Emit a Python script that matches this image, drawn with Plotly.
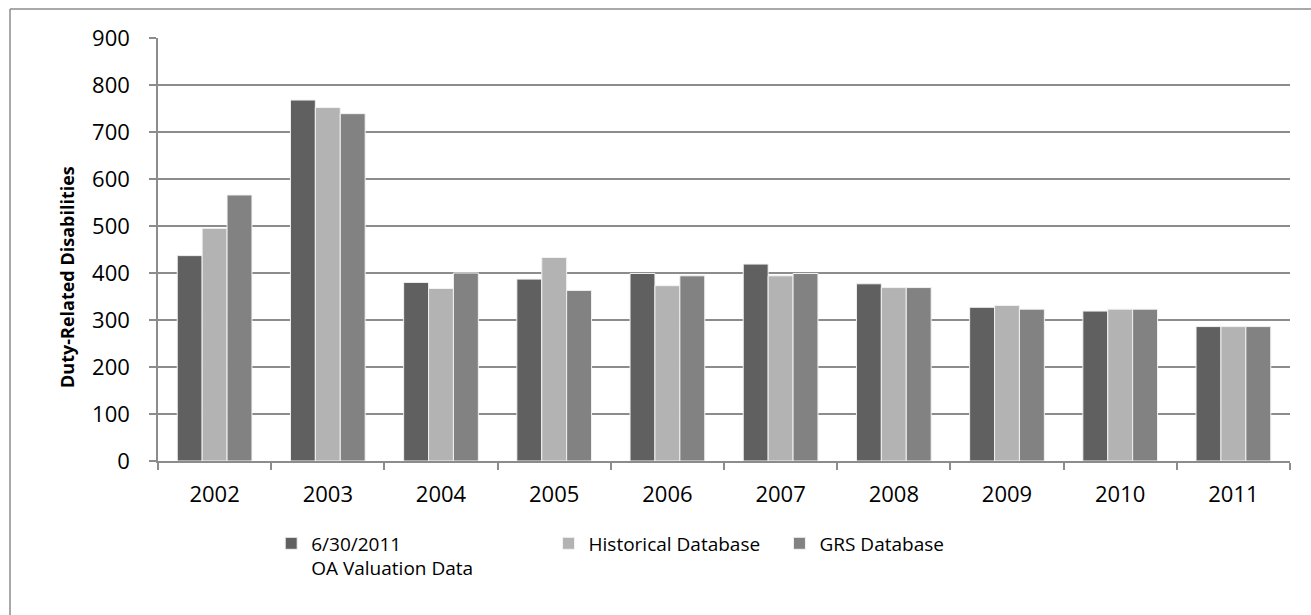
import plotly.graph_objects as go

# Duty-related disabilities by year, from three data sources
years = ["2002", "2003", "2004", "2005", "2006", "2007", "2008", "2009", "2010", "2011"]
oa_valuation = [437, 768, 380, 387, 399, 419, 377, 327, 319, 286]
historical_db = [495, 752, 367, 433, 373, 394, 369, 331, 323, 286]
grs_db = [566, 739, 400, 363, 394, 399, 369, 323, 323, 286]

series_names = ["6/30/2011<br>OA Valuation Data", "Historical Database", "GRS Database"]
series_values = [oa_valuation, historical_db, grs_db]
series_colors = ["#606060", "#b3b3b3", "#828282"]
legend_ids = ["legend", "legend2", "legend3"]
legend_x = [0.100, 0.345, 0.549]

FONT = "Open Sans"
FS = 22
LEG_FS = 19
GRID = "#8c8c8c"

fig = go.Figure()
for name, vals, color, lg in zip(series_names, series_values, series_colors, legend_ids):
    fig.add_trace(go.Bar(
        x=years, y=vals, name=name,
        marker=dict(color=color, line=dict(color="#f2f2f2", width=1)),
        legend=lg,
    ))

legend_common = dict(
    orientation="h", yanchor="top", y=-0.15, xanchor="left",
    font=dict(family=FONT, size=LEG_FS, color="#000000"),
    bgcolor="rgba(0,0,0,0)", valign="top", itemwidth=30,
)
layout_legends = {}
for lg, lx in zip(legend_ids, legend_x):
    layout_legends[lg] = dict(legend_common, x=lx)

W, H = 1311, 615
L, R, T, B = 158, 21, 38, 154
pw, ph = W - L - R, H - T - B


def px_x(v):
    return (v - L) / pw


def px_y(v):
    return (H - B - v) / ph


fig.update_layout(
    width=W, height=H,
    margin=dict(l=L, r=R, t=T, b=B),
    paper_bgcolor="white", plot_bgcolor="white",
    barmode="group", bargap=0.34, bargroupgap=0,
    font=dict(family=FONT, size=FS, color="#000000"),
    showlegend=True,
    **layout_legends,
    xaxis=dict(
        type="category", showgrid=False,
        showline=True, linecolor=GRID, linewidth=1.5,
        ticks="outside", tickson="boundaries", ticklen=7, tickcolor=GRID, tickwidth=1.5,
        tickfont=dict(family=FONT, size=FS, color="#000000"),
        ticklabelstandoff=13,
    ),
    yaxis=dict(
        range=[0, 900], dtick=100, tick0=0,
        showgrid=True, gridcolor=GRID, gridwidth=1.5,
        showline=True, linecolor=GRID, linewidth=1.5,
        ticks="outside", ticklen=7, tickcolor=GRID, tickwidth=1.5,
        zeroline=False,
        tickfont=dict(family=FONT, size=FS, color="#000000"),
        ticklabelstandoff=15,
    ),
    annotations=[
        dict(text="<b>Duty-Related Disabilities</b>", textangle=-90,
             xref="paper", yref="paper", x=px_x(67), y=px_y(277),
             xanchor="center", yanchor="middle", showarrow=False,
             font=dict(family=FONT, size=18, color="#000000")),
    ],
    shapes=[
        dict(type="line", xref="paper", yref="paper",
             x0=px_x(10), x1=px_x(W + 5), y0=px_y(9), y1=px_y(9),
             line=dict(color=GRID, width=1.5)),
        dict(type="line", xref="paper", yref="paper",
             x0=px_x(10), x1=px_x(10), y0=px_y(9), y1=px_y(H + 5),
             line=dict(color=GRID, width=1.5)),
    ],
)

fig.write_html("out.html")
